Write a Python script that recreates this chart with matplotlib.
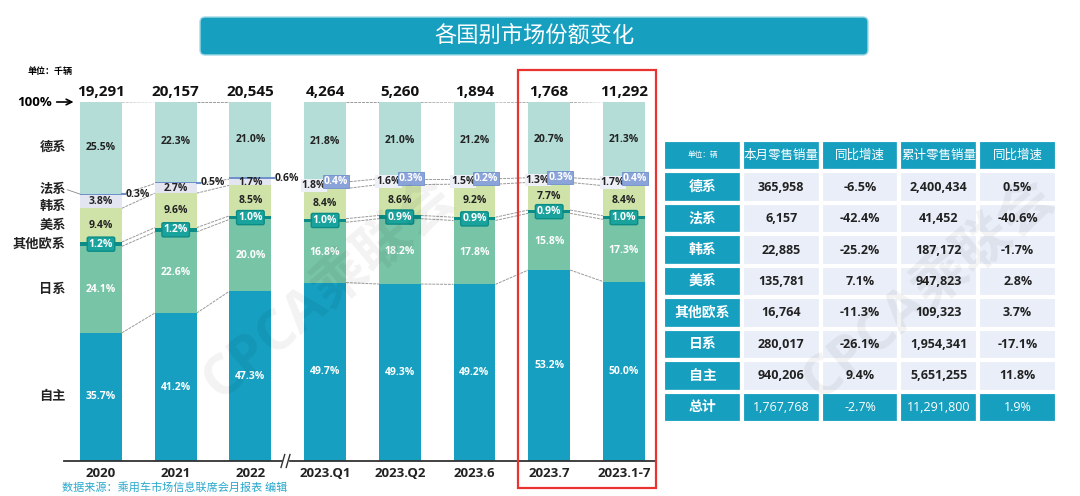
import matplotlib
matplotlib.use('Agg')
import matplotlib.pyplot as plt
from matplotlib.patches import FancyBboxPatch, Rectangle

plt.rcParams['font.family'] = ['Open Sans', 'Noto Sans CJK SC', 'DejaVu Sans']

# ---------------------------------------------
# bar chart data (share %, bottom -> top)
periods = ['2020', '2021', '2022', '2023.Q1', '2023.Q2', '2023.6', '2023.7', '2023.1-7']
totals = [19291, 20157, 20545, 4264, 5260, 1894, 1768, 11292]

zizhu = [35.7, 41.2, 47.3, 49.7, 49.3, 49.2, 53.2, 50.0]
rixi = [24.1, 22.6, 20.0, 16.8, 18.2, 17.8, 15.8, 17.3]
qita = [1.2, 1.2, 1.0, 1.0, 0.9, 0.9, 0.9, 1.0]
meixi = [9.4, 9.6, 8.5, 8.4, 8.6, 9.2, 7.7, 8.4]
hanxi = [3.8, 2.7, 1.7, 1.8, 1.6, 1.5, 1.3, 1.7]
faxi = [0.3, 0.5, 0.6, 0.4, 0.3, 0.2, 0.3, 0.4]
dexi = [25.5, 22.3, 21.0, 21.8, 21.0, 21.2, 20.7, 21.3]

series = ['自主', '日系', '其他欧系', '美系', '韩系', '法系', '德系']

# ---------------------------------------------
# table data (2023.7)
table_header = ['单位：辆', '本月零售销量', '同比增速', '累计零售销量', '同比增速']
table_rows = ['德系', '法系', '韩系', '美系', '其他欧系', '日系', '自主', '总计']
month_sales = [365958, 6157, 22885, 135781, 16764, 280017, 940206, 1767768]
month_yoy = [-6.5, -42.4, -25.2, 7.1, -11.3, -26.1, 9.4, -2.7]
ytd_sales = [2400434, 41452, 187172, 947823, 109323, 1954341, 5651255, 11291800]
ytd_yoy = [0.5, -40.6, -1.7, 2.8, 3.7, -17.1, 11.8, 1.9]

#----------------------------------------------
colors = ['#169fc0', '#78c4a6', '#0c8c86', '#cfe3a9', '#e3e5f1', '#7090cc', '#b3ddd6']
teal = '#179fc0'

fig = plt.figure(figsize=(10.8, 4.96), dpi=100)

# background axes in pixel units for title / footer
bg = fig.add_axes([0, 0, 1, 1], zorder=-1)
bg.set_xlim(0, 1080)
bg.set_ylim(496, 0)
bg.axis('off')
bg.add_patch(FancyBboxPatch((200, 17), 668, 38, boxstyle='round,pad=0,rounding_size=5',
                            fc=teal, ec='#a5d9e6', lw=1))
bg.text(534, 36, '各国别市场份额变化', color='white', fontsize=16, ha='center', va='center')
bg.text(62, 488, '数据来源：乘用车市场信息联席会月报表 编辑', color='#29a8cc', fontsize=8,
        va='center')

# main chart
ax = fig.add_axes([64 / 1080, 35 / 496, 592 / 1080, 359 / 496])
ax.set_xlim(-0.495, 7.43)
ax.set_ylim(0, 100)
ax.axis('off')

x = list(range(len(periods)))
w = 0.56
shares = [zizhu, rixi, qita, meixi, hanxi, faxi, dexi]
bottoms = [0.0] * len(x)
cum = []
for vals, c in zip(shares, colors):
    ax.bar(x, vals, w, bottom=bottoms, color=c, linewidth=0, zorder=2)
    bottoms = [b + v for b, v in zip(bottoms, vals)]
    cum.append(bottoms[:])

# connector lines between bars
pairs = [(0, 1), (1, 2), (3, 4), (4, 5), (5, 6), (6, 7)]
for a, b in pairs:
    for k in [0, 1, 2, 3, 4, 6]:
        ax.plot([a + w / 2, b - w / 2], [cum[k][a], cum[k][b]], color='#9a9a9a',
                lw=0.7, ls=(0, (3, 1)), zorder=1)

# segment labels
lab = dict(fontsize=7.5, fontweight='bold', ha='center', va='center', zorder=4)
for i in x:
    cen = [cum[k][i] - shares[k][i] / 2 for k in range(len(shares))]
    ax.text(i, cen[0], f'{zizhu[i]:.1f}%', color='white', **lab)
    ax.text(i, cen[1], f'{rixi[i]:.1f}%', color='white', **lab)
    ax.text(i, cen[2], f'{qita[i]:.1f}%', color='white',
            bbox=dict(boxstyle='round,pad=0.15', fc='#1aa39d', ec='#0c8c86', lw=1), **lab)
    ax.text(i, cen[3], f'{meixi[i]:.1f}%', color='#222222', **lab)
    ax.text(i, cen[6], f'{dexi[i]:.1f}%', color='#222222', **lab)
    if i < 3:
        ax.text(i, cen[4], f'{hanxi[i]:.1f}%', color='#222222', **lab)
        ax.plot([i + w / 2, i + w / 2 + 0.04], [cen[5], cen[5]], color=colors[5], lw=1.5,
                zorder=3)
        ax.text(i + w / 2 + 0.05, cen[5], f'{faxi[i]:.1f}%', color='#222222', fontsize=7.5,
                fontweight='bold', ha='left', va='center', zorder=4)
    else:
        ax.text(i - 0.15, cen[4], f'{hanxi[i]:.1f}%', color='#222222',
                bbox=dict(boxstyle='square,pad=0.08', fc='#eef0f8', ec='none'), **lab)
        ax.text(i + 0.15, cen[5], f'{faxi[i]:.1f}%', color='white',
                bbox=dict(boxstyle='square,pad=0.08', fc='#8aa3d9', ec='#6f8fcc', lw=0.6), **lab)
    ax.text(i, 100.9, f'{totals[i]:,}', ha='center', va='bottom', fontsize=11,
            fontweight='bold', color='#111111')
    ax.text(i, -3.6, periods[i], ha='center', va='center', fontsize=9.5, fontweight='bold',
            color='#222222', clip_on=False)

# series names on the left, next to the 2020 bar
name_off = [0, 0, 0, 0, -1.5, 1.4, 0]
for k, name in enumerate(series):
    yc = cum[k][0] - shares[k][0] / 2 + name_off[k]
    ax.text(-0.47, yc, name, ha='right', va='center', fontsize=9.5, fontweight='bold',
            color='#222222', clip_on=False)
ax.plot([-0.45, -0.28], [cum[5][0] - faxi[0] / 2 + 1.2, cum[5][0] - faxi[0] / 2],
        color='#888888', lw=0.6, clip_on=False)

ax.text(-0.66, 100, '100%', ha='right', va='center', fontsize=9.5, fontweight='bold',
        clip_on=False)
ax.annotate('', xy=(-0.33, 100), xytext=(-0.63, 100),
            arrowprops=dict(arrowstyle='->', color='black', lw=1.2), annotation_clip=False)
ax.text(-0.98, 108.6, '单位：千辆', fontsize=6.5, fontweight='bold', va='center',
        clip_on=False)

# x axis with break
ax.plot([-0.495, 2.43], [0, 0], color='#333333', lw=1.3, clip_on=False, zorder=3)
ax.plot([2.53, 7.43], [0, 0], color='#333333', lw=1.3, clip_on=False, zorder=3)
for bx in [2.43, 2.50]:
    ax.plot([bx - 0.02, bx + 0.03], [-1.8, 1.8], color='#333333', lw=1, clip_on=False)

# highlight box
ax.add_patch(Rectangle((5.58, -7.5), 1.85, 116.4, fill=False, ec='#e8332f', lw=1.6,
                       clip_on=False, zorder=6))

# table
tax = fig.add_axes([663 / 1080, 73 / 496, 394 / 1080, 283 / 496])
tax.axis('off')
body = []
for r in range(len(table_rows)):
    body.append([table_rows[r], f'{month_sales[r]:,}', f'{month_yoy[r]:.1f}%',
                 f'{ytd_sales[r]:,}', f'{ytd_yoy[r]:.1f}%'])
tbl = tax.table(cellText=body, colLabels=table_header, bbox=[0, 0, 1, 1], cellLoc='center')
tbl.auto_set_font_size(False)
for (r, c), cell in tbl.get_celld().items():
    cell.set_edgecolor('white')
    cell.set_linewidth(3)
    t = cell.get_text()
    if r == 0:
        cell.set_facecolor(teal)
        t.set_color('white')
        t.set_fontsize(5.5 if c == 0 else 9)
    elif c == 0 or r == len(table_rows):
        cell.set_facecolor(teal)
        t.set_color('white')
        t.set_fontsize(10 if c == 0 else 9)
        t.set_fontweight('bold' if c == 0 else 'normal')
    else:
        cell.set_facecolor('#e9eef8')
        t.set_color('#222222')
        t.set_fontsize(9)
        t.set_fontweight('bold')

# faint watermark on top of everything
wm = fig.add_axes([0, 0, 1, 1], zorder=30)
wm.set_xlim(0, 1080)
wm.set_ylim(496, 0)
wm.axis('off')
wm.patch.set_alpha(0)
for wx in [330, 930]:
    wm.text(wx, 290, 'CPCA乘联会', color='#000000', alpha=0.05, fontsize=40, rotation=40,
            ha='center', va='center', fontweight='bold')

plt.savefig('out.png', dpi=100)
